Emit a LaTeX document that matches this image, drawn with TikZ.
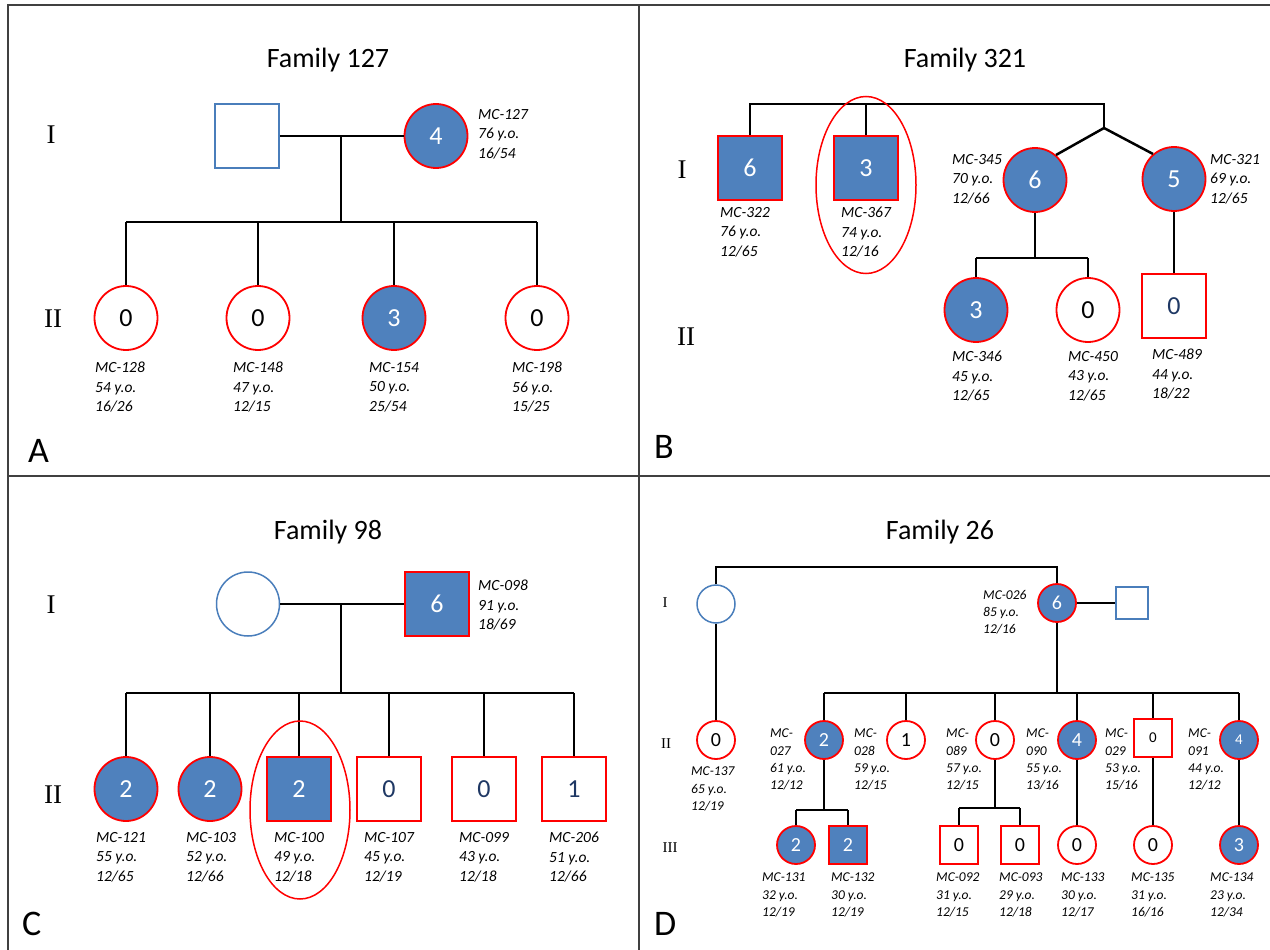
\documentclass[tikz,border=0pt]{standalone}
\usepackage{fontspec}
\setmainfont{Carlito}
\newfontfamily\genfont{Liberation Serif}
\usetikzlibrary{shapes.geometric}
\definecolor{fillblue}{HTML}{4F81BD}
\definecolor{pred}{HTML}{FF0000}
\definecolor{spblue}{HTML}{4A7EBB}
\definecolor{navy}{HTML}{1F3864}
\definecolor{framec}{HTML}{404040}
\tikzset{
  conn/.style={line width=2.5pt, black},
  framel/.style={line width=1.8pt, framec},
  aff/.style={fill=fillblue, draw=pred, line width=1.8pt, text=white},
  unaff/.style={fill=white, draw=pred, line width=1.8pt, text=black},
  unaffn/.style={fill=white, draw=pred, line width=1.8pt, text=navy},
  sp/.style={fill=white, draw=spblue, line width=1.5pt},
  fem/.style={ellipse, inner sep=0pt, minimum width=63pt, minimum height=64pt, font=\fontsize{26}{26}\selectfont},
  mal/.style={rectangle, inner sep=0pt, minimum width=64pt, minimum height=64pt, font=\fontsize{26}{26}\selectfont},
  femS/.style={ellipse, inner sep=0pt, minimum width=38pt, minimum height=38pt, font=\fontsize{20}{20}\selectfont},
  malS/.style={rectangle, inner sep=0pt, minimum width=38pt, minimum height=38pt, font=\fontsize{20}{20}\selectfont},
  smallnum/.style={font=\fontsize{15}{15}\selectfont},
  info/.style={font=\fontsize{15.5}{19.5}\selectfont\itshape, align=left, anchor=north west, inner sep=0pt},
  infoS/.style={font=\fontsize{13.5}{17.3}\selectfont\itshape, align=left, anchor=north west, inner sep=0pt},
  gen/.style={font=\genfont\fontsize{27}{27}\selectfont},
  genS/.style={font=\genfont\fontsize{15}{15}\selectfont},
  ttl/.style={font=\fontsize{28}{28}\selectfont, anchor=base},
  plet/.style={font=\fontsize{36}{36}\selectfont, anchor=base west, inner sep=0pt},
  ring/.style={ellipse, draw=pred, line width=1.5pt, inner sep=0pt},
}
\begin{document}
\begin{tikzpicture}[x=1pt,y=-1pt]
\useasboundingbox (0,0) rectangle (1270,950);
% frame
\coordinate (f1) at (8,5); \coordinate (f2) at (1270,5);
\coordinate (f3) at (8,950); \coordinate (f4) at (639,5); \coordinate (f5) at (639,950);
\coordinate (f6) at (8,476); \coordinate (f7) at (1270,476);
\draw[framel] (f3) -- (f1) -- (f2);
\draw[framel] (f6) -- (f7);
\draw[line width=1.2pt, framec] (f4) -- (f5);

% ================= Panel A =================
\node[ttl] (aT) at (328,68) {Family 127};
\node[gen] (aI) at (51,135) {I};
\node[gen] (aII) at (53,319) {II};
\node[plet] (aL) at (28,462) {A};
\node[mal,sp] (a1) at (247,136) {};
\node[fem,aff] (a2) at (436,136) {4};
\draw[conn] (a1.east) -- (a2.west);
\coordinate (aM) at (341,136); \coordinate (aS) at (341,222);
\draw[conn] (aM) -- (aS);
\node[fem,unaff] (a3) at (126,318) {0};
\node[fem,unaff] (a4) at (258,318) {0};
\node[fem,aff] (a5) at (394,318) {3};
\node[fem,unaff] (a6) at (537,318) {0};
\draw[conn] (a3.north |- aS) -- (a6.north |- aS);
\foreach \n in {a3,a4,a5,a6} \draw[conn] (\n.north |- aS) -- (\n.north);
\node[info] (a2t) at (478,109) {MC-127\\76 y.o.\\16/54};
\node[info] (a3t) at (95,362) {MC-128\\54 y.o.\\16/26};
\node[info] (a4t) at (233,362) {MC-148\\47 y.o.\\12/15};
\node[info] (a5t) at (369,362) {MC-154\\50 y.o.\\25/54};
\node[info] (a6t) at (512,362) {MC-198\\56 y.o.\\15/25};

% ================= Panel B =================
\node[ttl] (bT) at (965,68) {Family 321};
\node[gen] (bI) at (682,170) {I};
\node[gen] (bII) at (686,337) {II};
\node[plet] (bL) at (654,458) {B};
\node[mal,aff] (b1) at (750,168) {6};
\node[mal,aff] (b2) at (866,168) {3};
\node[fem,aff] (b3) at (1035,180) {6};
\node[fem,aff] (b4) at (1174,179) {5};
\coordinate (bTop) at (1104,104); \coordinate (bV) at (1104,128);
\draw[conn] (b1.north) -- (b1.north |- bTop) -- (bTop) -- (bV);
\draw[conn] (b2.north) -- (b2.north |- bTop);
\draw[conn] (bV) -- (b3.50);
\draw[conn] (bV) -- (b4.130);
\node[ring, minimum width=100pt, minimum height=177pt] (bE) at (866,185) {};
\node[fem,aff] (b5) at (976,310) {3};
\node[fem,unaff] (b6) at (1088,310) {0};
\node[mal,unaffn] (b7) at (1174,306) {0};
\coordinate (bS) at (1035,258);
\draw[conn] (b3.south) -- (bS);
\draw[conn] (b5.north |- bS) -- (b6.north |- bS);
\foreach \n in {b5,b6} \draw[conn] (\n.north |- bS) -- (\n.north);
\draw[conn] (b4.south) -- (b7.north);
\node[info] (b1t) at (720,207) {MC-322\\76 y.o.\\12/65};
\node[info] (b2t) at (841,207) {MC-367\\74 y.o.\\12/16};
\node[info] (b3t) at (952,154) {MC-345\\70 y.o.\\12/66};
\node[info] (b4t) at (1210,154) {MC-321\\69 y.o.\\12/65};
\node[info] (b5t) at (952,351) {MC-346\\45 y.o.\\12/65};
\node[info] (b6t) at (1068,351) {MC-450\\43 y.o.\\12/65};
\node[info] (b7t) at (1152,349) {MC-489\\44 y.o.\\18/22};

% ================= Panel C =================
\node[ttl] (cT) at (328,539) {Family 98};
\node[gen] (cI) at (51,605) {I};
\node[gen] (cII) at (53,795) {II};
\node[plet] (cL) at (22,935) {C};
\node[fem,sp] (c1) at (248,604) {};
\node[mal,aff] (c2) at (437,604) {6};
\draw[conn] (c1.east) -- (c2.west);
\coordinate (cM) at (341,604); \coordinate (cS) at (341,693);
\draw[conn] (cM) -- (cS);
\node[fem,aff] (c3) at (126,789) {2};
\node[fem,aff] (c4) at (210,789) {2};
\node[mal,aff] (c5) at (299,789) {2};
\node[mal,unaffn] (c6) at (389,789) {0};
\node[mal,unaffn] (c7) at (484,789) {0};
\node[mal,unaffn] (c8) at (574,789) {1};
\draw[conn] (c3.north |- cS) -- (c8.north |- cS);
\foreach \n in {c3,c4,c5,c6,c7,c8} \draw[conn] (\n.north |- cS) -- (\n.north);
\node[ring, minimum width=100pt, minimum height=178pt] (cE) at (300,810) {};
\node[info] (c2t) at (478,580) {MC-098\\91 y.o.\\18/69};
\node[info] (c3t) at (96,832) {MC-121\\55 y.o.\\12/65};
\node[info] (c4t) at (186,832) {MC-103\\52 y.o.\\12/66};
\node[info] (c5t) at (274,832) {MC-100\\49 y.o.\\12/18};
\node[info] (c6t) at (364,832) {MC-107\\45 y.o.\\12/19};
\node[info] (c7t) at (459,832) {MC-099\\43 y.o.\\12/18};
\node[info] (c8t) at (549,832) {MC-206\\51 y.o.\\12/66};

% ================= Panel D =================
\node[ttl] (dT) at (940,539) {Family 26};
\node[genS] (dI) at (665,603) {I};
\node[genS] (dII) at (666,744) {II};
\node[genS] (dIII) at (670,848) {III};
\node[plet] (dL) at (654,935) {D};
\node[femS,sp] (d1) at (716,604) {};
\node[femS,aff] (d2) at (1057,603) {6};
\node[malS,sp, minimum width=32pt, minimum height=32pt] (d3) at (1132,603) {};
\coordinate (dTop) at (1057,567);
\draw[conn] (d1.north) -- (d1.north |- dTop) -- (dTop) -- (d2.north);
\draw[conn] (d2.east) -- (d3.west);
\coordinate (dS) at (1057,693);
\draw[conn] (d2.south) -- (dS);
\node[femS,unaff] (d4) at (716,740) {0};
\node[femS,aff] (d5) at (824,740) {2};
\node[femS,unaff] (d6) at (906,740) {1};
\node[femS,unaff] (d7) at (995,740) {0};
\node[femS,aff] (d8) at (1077,740) {4};
\node[malS,unaff,smallnum] (d9) at (1153,738) {0};
\node[femS,aff,smallnum] (d10) at (1239,740) {4};
\draw[conn] (d1.south) -- (d4.north);
\draw[conn] (d5.north |- dS) -- (d10.north |- dS);
\foreach \n in {d5,d6,d7,d8,d9,d10} \draw[conn] (\n.north |- dS) -- (\n.north);
\node[femS,aff] (d11) at (796,845) {2};
\node[malS,aff] (d12) at (848,845) {2};
\node[malS,unaff] (d13) at (959,845) {0};
\node[malS,unaff] (d14) at (1020,845) {0};
\node[femS,unaff] (d15) at (1077,845) {0};
\node[femS,unaff] (d16) at (1153,845) {0};
\node[femS,aff] (d17) at (1239,845) {3};
\coordinate (d5S) at (824,810);
\draw[conn] (d5.south) -- (d5S);
\draw[conn] (d11.north |- d5S) -- (d12.north |- d5S);
\foreach \n in {d11,d12} \draw[conn] (\n.north |- d5S) -- (\n.north);
\coordinate (d7S) at (995,808);
\draw[conn] (d7.south) -- (d7S);
\draw[conn] (d13.north |- d7S) -- (d14.north |- d7S);
\foreach \n in {d13,d14} \draw[conn] (\n.north |- d7S) -- (\n.north);
\draw[conn] (d8.south) -- (d15.north);
\draw[conn] (d9.south) -- (d16.north);
\draw[conn] (d10.south) -- (d17.north);
\node[infoS] (d2t) at (983,590) {MC-026\\85 y.o.\\12/16};
\node[infoS] (d4t) at (691,767) {MC-137\\65 y.o.\\12/19};
\node[infoS] (d5t) at (770,729) {MC-\\027\\61 y.o.\\12/12};
\node[infoS] (d6t) at (854,729) {MC-\\028\\59 y.o.\\12/15};
\node[infoS] (d7t) at (946,729) {MC-\\089\\57 y.o.\\12/15};
\node[infoS] (d8t) at (1026,729) {MC-\\090\\55 y.o.\\13/16};
\node[infoS] (d9t) at (1105,729) {MC-\\029\\53 y.o.\\15/16};
\node[infoS] (d10t) at (1188,729) {MC-\\091\\44 y.o.\\12/12};
\node[infoS] (d11t) at (762,873) {MC-131\\32 y.o.\\12/19};
\node[infoS] (d12t) at (831,873) {MC-132\\30 y.o.\\12/19};
\node[infoS] (d13t) at (936,873) {MC-092\\31 y.o.\\12/15};
\node[infoS] (d14t) at (999,873) {MC-093\\29 y.o.\\12/18};
\node[infoS] (d15t) at (1061,873) {MC-133\\30 y.o.\\12/17};
\node[infoS] (d16t) at (1131,873) {MC-135\\31 y.o.\\16/16};
\node[infoS] (d17t) at (1210,873) {MC-134\\23 y.o.\\12/34};
\end{tikzpicture}
\end{document}
